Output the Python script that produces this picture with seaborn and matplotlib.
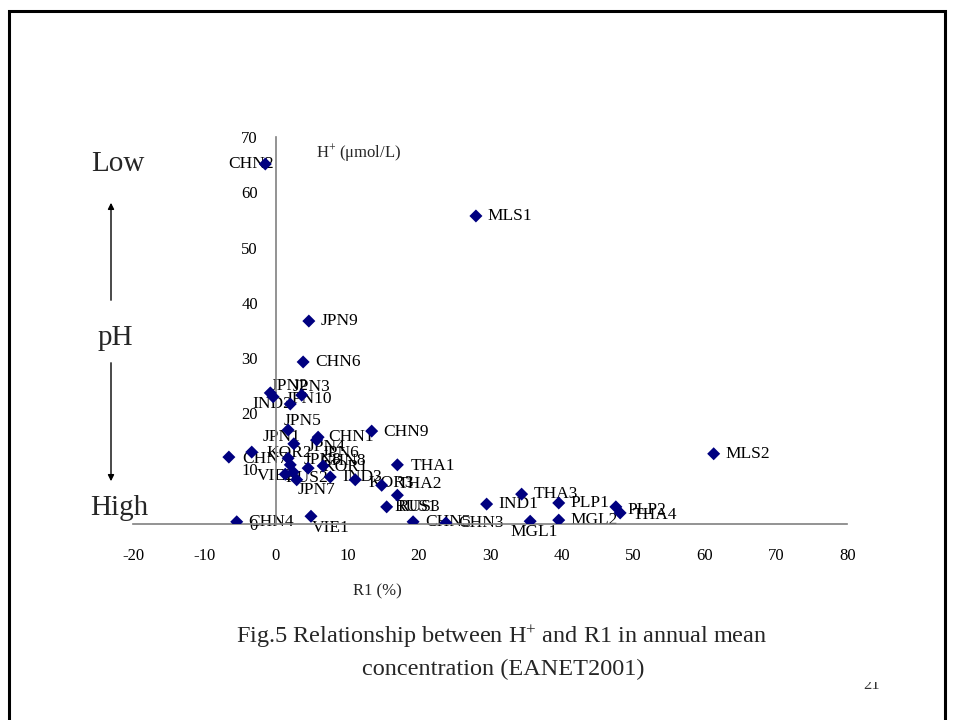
import matplotlib
matplotlib.use("Agg")
import matplotlib.pyplot as plt
import seaborn as sns
import pandas as pd
from matplotlib.patches import Rectangle, FancyArrowPatch

# ---------------- data ----------------
sites = ["CHN2", "MLS1", "JPN9", "CHN6", "MLS2", "JPN2", "IND2", "JPN3", "JPN10",
         "JPN5", "JPN1", "CHN1", "JPN4", "CHN9", "THA1", "CHN7", "KOR2", "JPN8",
         "CHN8", "VIE2", "RUS2", "JPN7", "KOR1", "JPN6", "IND3", "KOR3", "THA2",
         "RUS3", "RUS1", "CHN4", "VIE1", "CHN5", "CHN3", "IND1", "THA3", "MGL1",
         "PLP1", "MGL2", "PLP2", "THA4"]
r1 = [-1.5, 28.0, 4.6, 3.8, 61.3, -0.8, -0.4, 3.6, 2.0,
      1.7, 2.5, 5.9, 5.7, 13.4, 17.0, -6.6, -3.4, 1.7,
      2.0, 1.3, 2.4, 2.9, 4.5, 6.6, 7.6, 11.1, 14.8,
      17.0, 15.5, -5.5, 4.9, 19.2, 23.8, 29.5, 34.4, 35.6,
      39.6, 39.6, 47.6, 48.2]
h_plus = [65.1, 55.7, 36.7, 29.3, 12.7, 23.7, 23.0, 23.3, 21.7,
          17.0, 14.5, 15.7, 15.2, 16.8, 10.7, 12.1, 13.0, 11.9,
          10.7, 9.0, 9.4, 8.0, 10.1, 10.5, 8.5, 8.0, 7.0,
          5.2, 3.1, 0.4, 1.4, 0.4, 0.2, 3.6, 5.4, 0.5,
          3.8, 0.7, 3.1, 2.0]
x_ticks = [-20, -10, 0, 10, 20, 30, 40, 50, 60, 70, 80]
y_ticks = [0, 10, 20, 30, 40, 50, 60, 70]

# label placement (pixels: right, down) relative to each marker
default_offset = (12, 0)
label_offsets = {
    "CHN2": (-37, 0), "JPN2": (0, -7), "IND2": (-21, 7), "JPN3": (-9, -8),
    "JPN10": (-5, -5), "JPN5": (-5, -9), "JPN1": (-31, -7), "CHN1": (10, 0),
    "JPN4": (-9, 7), "CHN7": (13, 2), "KOR2": (15, 1), "JPN8": (15, 2),
    "CHN8": (30, -4), "VIE2": (-28, 2), "RUS2": (-8, 6), "JPN7": (1, 10),
    "KOR1": (14, -1), "JPN6": (-1, -13), "KOR3": (13, 3), "THA2": (16, -1),
    "RUS3": (0, 12), "RUS1": (8, 0), "VIE1": (1, 12), "MGL1": (-20, 11),
    "PLP2": (12, 3), "THA4": (13, 2), "THA1": (13, 1), "CHN9": (12, 1),
}

df = pd.DataFrame({"site": sites, "R1": r1, "H": h_plus})

# ---------------- style ----------------
sns.set_style("white")
plt.rcParams["font.family"] = ["Liberation Serif", "DejaVu Serif"]
plt.rcParams["mathtext.fontset"] = "custom"
plt.rcParams["mathtext.rm"] = "Liberation Serif"
plt.rcParams["mathtext.it"] = "Liberation Serif:italic"

W, H = 954, 720
fig = plt.figure(figsize=(W / 100, H / 100), dpi=100)
fig.patch.set_facecolor("white")


def fp(x, y):
    return (x / W, 1 - y / H)


ax_l, ax_r, ax_t, ax_b = 133.2, 847.2, 136.9, 524.0
ax = fig.add_axes([ax_l / W, 1 - ax_b / H, (ax_r - ax_l) / W, (ax_b - ax_t) / H])
ax.set_facecolor("none")

sns.scatterplot(data=df, x="R1", y="H", marker="D", color="#000080", s=44,
                edgecolor="none", linewidth=0, ax=ax, zorder=3, legend=False)

for name, xv, yv in zip(sites, r1, h_plus):
    dx, dy = label_offsets.get(name, default_offset)
    ax.annotate(name, (xv, yv), xytext=(dx * 0.72, -dy * 0.72),
                textcoords="offset points", ha="left", va="center",
                fontsize=12.5, color="black", zorder=2, annotation_clip=False)

ax.set_xlim(-20, 80)
ax.set_ylim(0, 70)
ax.set_xticks(x_ticks)
ax.set_yticks(y_ticks)
ax.set_xticklabels([str(v) for v in x_ticks])
ax.set_yticklabels([str(v) for v in y_ticks])
ax.set_xlabel("")
ax.set_ylabel("")
for s in ["top", "right"]:
    ax.spines[s].set_visible(False)
ax.spines["left"].set_position(("data", 0))
for s in ["left", "bottom"]:
    ax.spines[s].set_color("#808080")
    ax.spines[s].set_linewidth(1.2)
ax.tick_params(axis="both", direction="in", length=4, width=1, color="#808080",
               labelsize=12, labelcolor="black")
ax.tick_params(axis="x", pad=17)
ax.tick_params(axis="y", pad=13)
ax.grid(False)

# axis annotation texts
fig.text(*fp(316, 153), r"H$^{+}$ (μmol/L)", fontsize=12, ha="left", va="center")
fig.text(*fp(377, 591), "R1 (%)", fontsize=12, ha="center", va="center")

# pH indicator
fig.text(*fp(118, 164), "Low", fontsize=21, ha="center", va="center")
fig.text(*fp(115, 338), "pH", fontsize=21, ha="center", va="center")
fig.text(*fp(119, 508), "High", fontsize=21, ha="center", va="center")
fig.add_artist(FancyArrowPatch(fp(111, 303), fp(111, 200), transform=fig.transFigure,
                               arrowstyle="-|>", mutation_scale=9, lw=1, color="black"))
fig.add_artist(FancyArrowPatch(fp(111, 360), fp(111, 484), transform=fig.transFigure,
                               arrowstyle="-|>", mutation_scale=9, lw=1, color="black"))

# caption
fig.text(*fp(502, 637), r"Fig.5 Relationship between H$^{+}$ and R1 in annual mean",
         fontsize=17.5, ha="center", va="center")
fig.text(*fp(503, 669), "concentration (EANET2001)", fontsize=17.5, ha="center", va="center")

# page number (top part hidden, as in the reference)
fig.text(*fp(872, 689), "21", fontsize=12, ha="center", va="baseline", color="#333333")
fig.add_artist(Rectangle(fp(855, 682), 40 / W, 30 / H, transform=fig.transFigure,
                         facecolor="white", edgecolor="none", zorder=10))

# slide frame
fig.add_artist(Rectangle(fp(9, 760), (945 - 9) / W, (760 - 11) / H, transform=fig.transFigure,
                         facecolor="none", edgecolor="black", linewidth=2.2, zorder=11))

fig.savefig("out.png", dpi=100)
